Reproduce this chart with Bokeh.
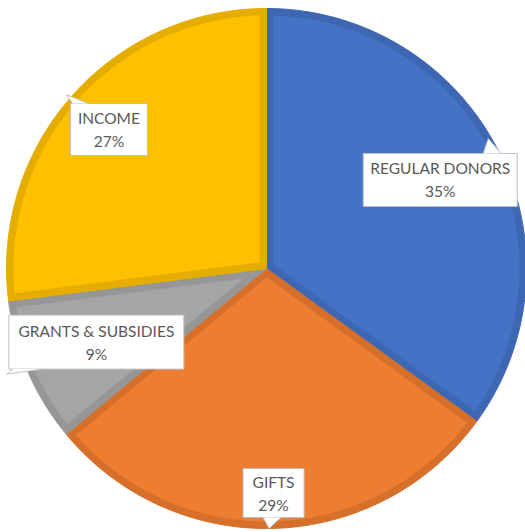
import numpy as np
from bokeh.plotting import figure
from bokeh.models import Range1d
from bokeh.embed import file_html
from bokeh.resources import INLINE
from bokeh.core.properties import value

# ---- data ----
categories = ["REGULAR DONORS", "GIFTS", "GRANTS & SUBSIDIES", "INCOME"]
shares = [35, 29, 9, 27]
pct_labels = ["35%", "29%", "9%", "27%"]

# ---- styles ----
fill_colors = ["#4472C4", "#ED7D31", "#A5A5A5", "#FFC000"]
band_colors = ["#3D67B3", "#D56F29", "#969696", "#E5AD00"]

# ---- layout ----
W, H = 525, 532
CX, CY = 266.0, H - 268.0
R = 260.0
BAND = 7.0
label_frac = [0.75, 0.864, 0.713, 0.808]
box_w = [154, 61, 175, 77]
box_h = [53, 49, 54, 52]
# tails: (base1, base2, tip) offsets from box centre, screen px (y down)
tails = [
    [(43, -26.5), (61, -26.5), (48, -41.5)],
    [(-10.5, 24.5), (7.5, 24.5), (-4.5, 35.5)],
    [(-83.5, 27), (-53.5, 27), (-89.5, 32)],
    [(-36.5, -26), (-20.5, -26), (-42.5, -35)],
]

p = figure(width=W, height=H, output_backend="svg", toolbar_location=None,
           x_range=Range1d(0, W), y_range=Range1d(0, H),
           x_axis_location=None, y_axis_location=None, min_border=0)
p.grid.visible = False
p.outline_line_color = None
p.background_fill_color = "white"


def pt(t, r):
    a = np.pi / 2 - t
    return CX + r * np.cos(a), CY + r * np.sin(a)


total = float(sum(shares))
starts, ends = [], []
acc = 0.0
for s in shares:
    starts.append(acc / total * 2 * np.pi)
    acc += s
    ends.append(acc / total * 2 * np.pi)

outer_xs, outer_ys, inner_xs, inner_ys = [], [], [], []
for t1, t2 in zip(starts, ends):
    ts = np.linspace(t1, t2, 200)
    xs, ys = pt(ts, R)
    outer_xs.append([CX] + list(xs))
    outer_ys.append([CY] + list(ys))
    span = t2 - t1
    apex_d = BAND / np.sin(span / 2)
    ax, ay = pt((t1 + t2) / 2, apex_d)
    off = np.arcsin(BAND / (R - BAND))
    ts2 = np.linspace(t1 + off, t2 - off, 200)
    xs2, ys2 = pt(ts2, R - BAND)
    inner_xs.append([ax] + list(xs2))
    inner_ys.append([ay] + list(ys2))

p.patches(outer_xs, outer_ys, fill_color=band_colors, line_color=band_colors, line_width=1)
p.patches(inner_xs, inner_ys, fill_color=fill_colors, line_color=None)

# labels
for i, (cat, pct) in enumerate(zip(categories, pct_labels)):
    mid = (starts[i] + ends[i]) / 2
    bx, by = pt(mid, R * label_frac[i])
    p.rect(x=[bx], y=[by], width=box_w[i], height=box_h[i],
           fill_color="white", line_color="#BFBFBF", line_width=1)
    (b1, b2, tip) = tails[i]
    txs = [bx + b1[0], bx + tip[0], bx + b2[0]]
    tys = [by - b1[1], by - tip[1], by - b2[1]]
    p.patch(txs, tys, fill_color="white", line_color=None)
    p.line(txs, tys, line_color="#BFBFBF", line_width=1)
    p.text(x=[bx, bx], y=[by + 11.5, by - 11.5], text=[cat, pct],
           text_align="center", text_baseline="middle",
           text_font=value("Lato"), text_font_size="15.5px", text_color="#595959")

open("out.html", "w").write(file_html(p, INLINE))
